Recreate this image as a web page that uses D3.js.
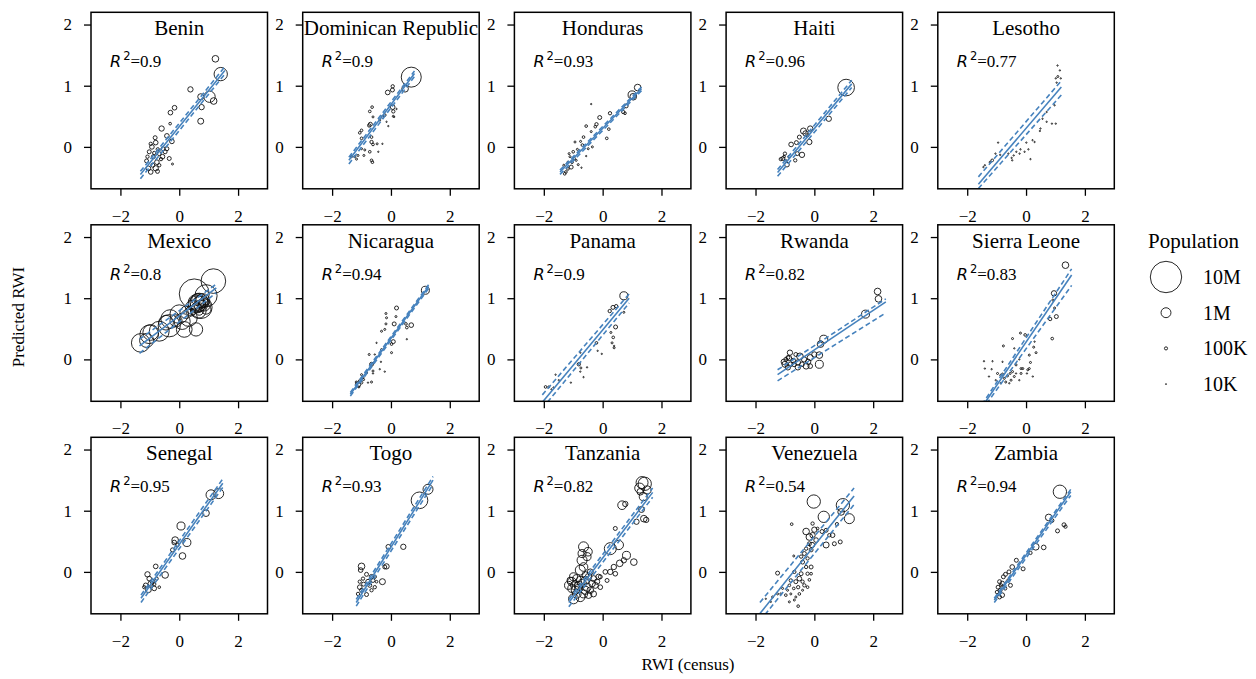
<!DOCTYPE html>
<html>
<head>
<meta charset="utf-8">
<script src="https://cdn.jsdelivr.net/npm/d3@7"></script>
<style>
body { margin: 0; background: #fff; }
text { font-family: "Liberation Serif", "Times New Roman", serif; fill: #000; }
</style>
</head>
<body>
<div class="chart"></div>
<script>
//Countries, R2 and regression lines (x range, y at both ends)
const countries = ['Benin','Dominican Republic','Honduras','Haiti','Lesotho',
	'Mexico','Nicaragua','Panama','Rwanda','Sierra Leone',
	'Senegal','Togo','Tanzania','Venezuela','Zambia'];
const r2 = [0.9, 0.9, 0.93, 0.96, 0.77, 0.8, 0.94, 0.9, 0.82, 0.83, 0.95, 0.93, 0.82, 0.54, 0.94];
const fitX   = [[-1.32,1.55],[-1.43,0.8],[-1.45,1.32],[-1.25,1.27],[-1.62,1.2],[-1.35,1.26],[-1.38,1.28],[-2.05,0.9],[-1.25,2.43],[-1.5,1.55],[-1.3,1.48],[-1.18,1.43],[-1.15,1.7],[-1.85,1.35],[-1.08,1.52]];
const fitMid = [[-0.45,1.25],[-0.22,1.2],[-0.41,0.95],[-0.42,1.03],[-0.61,0.98],[0.22,1.17],[-0.57,1.19],[-0.7,1.0],[-0.25,0.94],[-0.78,1.38],[-0.43,1.45],[-0.5,1.5],[-0.5,1.3],[-0.68,1.24],[-0.46,1.31]];
const fitUp  = [[-0.4,1.31],[-0.17,1.24],[-0.38,0.98],[-0.37,1.09],[-0.49,1.08],[0.33,1.23],[-0.54,1.22],[-0.58,1.07],[-0.17,0.99],[-0.74,1.48],[-0.38,1.52],[-0.45,1.56],[-0.45,1.37],[-0.5,1.37],[-0.43,1.35]];
const fitLo  = [[-0.52,1.19],[-0.28,1.15],[-0.45,0.92],[-0.48,0.97],[-0.68,0.85],[0.1,1.09],[-0.6,1.16],[-0.8,0.92],[-0.35,0.76],[-0.83,1.21],[-0.5,1.38],[-0.56,1.43],[-0.57,1.22],[-0.8,1.1],[-0.5,1.25]];

//Points: [RWI census, predicted RWI, population in thousands]
const benin = [[1.41,1.19,1800],[1.23,1.44,450],[1.17,0.75,450],[1.03,0.82,1300],[0.73,0.82,365],[0.76,0.65,290],[0.73,0.42,365],[0.38,0.94,290],[-0.16,0.64,220],[-0.3,0.56,220],[-0.31,0.38,72],[-0.6,0.3,290],[-0.42,0.18,220],[-0.25,0.09,220],[-0.42,-0.03,160],[-0.34,-0.19,160],[-0.23,-0.28,41],
	[-0.93,0,220],[-0.8,0.07,220],[-1.02,-0.08,160],[-1.11,-0.23,160],[-1.05,-0.35,220],[-0.8,-0.35,290],[-0.76,-0.25,220],[-0.68,-0.11,160],[-0.57,-0.16,220],[-0.88,-0.16,160],[-0.97,-0.41,220],[-0.74,-0.4,160],[-0.55,-0.03,160],[-0.62,-0.2,113],[-0.85,-0.1,113],[-1.08,-0.16,113],[-0.9,-0.3,160],[-0.68,-0.3,113],[-0.48,-0.08,160],[-0.73,-0.04,113],[-0.82,0.15,160],[-0.97,0.05,113]];
const dominican = [[0.69,1.14,4060],[0.48,0.95,450],[0.06,0.99,113],[-0.11,0.89,220],[0.05,0.93,160],[0.06,0.65,220],[0.08,0.58,113],[0.19,0.62,18],[-0.09,0.34,18],[0.08,0.5,41],[-0.29,0.49,72],[-0.21,0.52,72],[-0.64,0.65,72],[-0.72,0.58,72],[-0.61,0.49,41],[-0.74,0.35,113],[-0.7,0.37,160],[-1.0,0.27,72],[-1.06,0.23,72],[-1.0,0.14,72],[-0.66,0.16,72],[-0.66,0.08,113],[-0.61,0.04,72],[-0.47,0.05,41],[-1.0,-0.03,41],[-0.89,-0.05,41],[-0.72,-0.08,72],[-0.66,-0.22,72],[-0.63,-0.25,72],[-0.92,-0.14,41],[-1.12,-0.14,41],[-1.23,-0.16,41],[-1.34,-0.16,41],[-1.17,-0.2,41],[-0.43,-0.08,18],[-0.29,0.05,18],[-0.38,0.44,41],[-0.15,0.41,18],[0.11,0.49,18]];
const honduras = [[1.19,0.97,450],[1.0,0.85,650],[1.04,0.82,450],[0.8,0.67,160],[0.7,0.57,113],[0.76,0.55,72],[0.25,0.55,113],[0.21,0.29,72],[0.14,0.14,72],[-0.1,0.48,160],[-0.21,0.37,113],[-0.25,0.33,72],[-0.39,0.7,18],[-0.56,0.34,72],[-0.65,0.16,72],[-0.39,0.25,41],[-0.75,0.09,41],[-0.69,0.03,72],[-0.86,-0.04,41],[-0.94,0.08,41],[-1.0,-0.08,72],[-1.11,-0.16,41],[-1.04,-0.25,72],[-1.07,-0.33,160],[-1.18,-0.36,72],[-1.25,-0.41,72],[-1.29,-0.44,72],[-0.9,-0.22,41],[-0.83,-0.29,41],[-0.72,-0.34,18],[-0.56,-0.15,18],[-0.49,-0.03,41],[-0.35,0.0,41],[-1.14,-0.11,41],[-0.97,-0.19,72],[-1.32,-0.3,41],[-1.18,-0.25,41]];
const haiti = [[1.08,0.97,2800],[0.49,0.46,290],[-0.14,0.3,290],[-0.37,0.26,365],[-0.3,0.22,290],[-0.51,0.16,160],[-0.17,0.08,290],[-0.79,0.04,220],[-0.61,0.07,160],[-0.42,-0.13,290],[-0.58,-0.11,160],[-0.65,-0.22,113],[-1.0,-0.11,113],[-1.07,-0.19,160],[-1.14,-0.2,113],[-0.93,-0.29,220],[-0.97,-0.23,72],[-1.03,-0.16,72],[-0.86,-0.16,72],[-0.24,0.19,113]];
const lesotho = [[1.07,1.33,18],[1.15,1.25,18],[1.08,1.15,41],[1.01,1.12,18],[1.18,1.12,18],[1.04,1.05,18],[0.97,0.68,18],[1.01,0.38,18],[0.88,0.38,18],[0.7,0.41,18],[0.49,0.3,18],[0.47,0.26,18],[0.22,0.11,18],[0.29,0.08,18],[0.01,0.07,18],[0.08,-0.04,18],[-0.05,-0.08,18],[-0.19,-0.04,18],[-0.22,-0.11,18],[-0.42,-0.14,18],[-0.49,-0.18,18],[-0.47,-0.22,18],[-0.6,-0.11,18],[-0.88,-0.13,18],[-0.95,0.07,18],[-1.15,-0.22,72],[-1.22,-0.25,41],[-1.4,-0.3,18],[-1.45,-0.33,18],[-1.04,-0.11,18],[0.15,-0.2,18],[0.7,0.57,18],[0.56,0.46,18],[-0.33,-0.08,18]];
const mexico = [[1.16,1.28,6150],[0.51,1.07,9130],[0.91,1.04,5000],[0.74,0.85,5000],[0.68,0.93,3500],[0.57,0.93,2500],[0.8,0.96,2000],[0.63,0.98,1500],[0.45,0.85,2000],[0.85,0.89,1500],[0.57,0.49,1800],[0.17,0.49,2500],[0.32,0.68,3000],[0.0,0.74,3500],[-0.31,0.66,3500],[-0.34,0.55,5000],[-0.68,0.46,4000],[-0.97,0.44,2500],[-1.02,0.41,3500],[-1.31,0.27,3500],[-1.11,0.31,2000],[0.23,0.77,1500],[0.4,0.79,1000],[0.59,0.85,1000],[0.91,0.82,1000],[-0.11,0.63,1500],[0.68,0.79,700],[0.6,0.9,3000],[0.75,0.95,1800],[0.7,0.88,1200],[0.82,0.93,900],[0.65,0.8,2500],[-0.45,0.6,2200],[0.1,0.62,2600],[0.78,0.9,600]];
const nicaragua = [[1.17,1.13,650],[0.19,0.84,160],[-0.17,0.75,41],[-0.15,0.68,41],[0.17,0.7,41],[0.11,0.58,160],[0.69,0.56,220],[0.51,0.58,72],[0.54,0.52,72],[0.54,0.33,18],[-0.17,0.58,41],[-0.21,0.49,41],[-0.32,0.46,41],[-0.49,0.27,18],[0.08,0.29,160],[0.02,0.25,72],[0.02,0.11,41],[-0.32,0.16,41],[-0.34,-0.04,18],[-0.21,-0.2,18],[-0.38,-0.16,18],[-0.55,0.08,18],[-0.74,0.08,41],[-0.66,-0.08,160],[-0.61,-0.19,41],[-0.83,-0.22,41],[-0.61,-0.23,18],[-1.0,-0.25,41],[-1.06,-0.36,113],[-1.12,-0.41,290],[-1.0,-0.38,72],[-0.93,-0.33,41],[-1.18,-0.37,41],[-0.66,-0.37,41],[-0.78,-0.38,18],[-1.09,-0.45,41],[-0.95,-0.3,41]];
const panama = [[0.72,1.04,650],[0.46,0.87,113],[0.35,0.85,160],[0.24,0.79,113],[0.72,0.77,41],[0.44,0.53,160],[0.28,0.44,41],[0.36,0.36,72],[0.32,0.27,41],[0.39,0.19,41],[0.39,0.22,18],[-0.21,0.27,72],[-0.17,0.14,18],[-0.03,0.09,18],[-0.76,0.11,18],[-0.81,-0.08,113],[-0.74,-0.14,41],[-0.76,-0.2,18],[-0.53,-0.13,18],[-0.65,-0.29,18],[-1.08,-0.38,18],[-1.49,-0.34,18],[-1.6,-0.25,18],[-1.94,-0.45,72],[-1.83,-0.45,41],[-1.74,-0.49,18],[-1.67,-0.46,18]];
const rwanda = [[2.15,1.11,450],[2.18,0.99,450],[1.74,0.74,650],[0.32,0.33,650],[0.21,0.25,450],[0.17,0.07,450],[0.17,-0.08,650],[0.0,0.08,290],[-0.14,0.03,365],[-0.21,-0.04,290],[-0.28,-0.11,365],[-0.35,0.0,290],[-0.49,0.05,450],[-0.56,-0.05,290],[-0.56,-0.13,290],[-0.69,-0.08,220],[-0.83,0.11,290],[-0.86,0.02,290],[-0.81,-0.08,220],[-0.9,-0.13,290],[-1.04,-0.04,290],[-1.0,-0.08,365],[-0.9,0.03,160],[-0.14,-0.11,220],[-0.42,-0.08,220],[-0.72,-0.02,220],[-0.63,0.08,160],[-0.97,0.0,160]];
const sierraLeone = [[1.34,1.54,450],[0.95,1.08,290],[1.03,0.7,160],[0.82,0.66,113],[0.89,0.34,72],[0.97,0.84,41],[0.91,0.97,41],[-0.03,0.4,72],[-0.19,0.43,41],[-0.46,0.34,41],[-0.77,0.22,41],[0.26,0.2,41],[0.34,0.11,41],[0.11,0.07,41],[0.15,-0.05,41],[0.11,-0.15,41],[0.06,-0.17,41],[-0.11,-0.15,41],[-0.17,-0.23,41],[-0.34,-0.09,41],[-1.43,-0.03,18],[-1.14,-0.03,18],[-1.4,-0.15,18],[-1.17,-0.16,18],[-1.26,-0.28,18],[-0.97,-0.23,41],[-0.86,-0.26,41],[-0.74,-0.31,41],[-0.63,-0.27,41],[-0.51,-0.34,41],[-0.69,-0.37,41],[-0.46,-0.2,41],[-0.4,-0.28,41],[-0.17,-0.15,41],[-0.23,-0.34,18],[-0.57,-0.39,18],[-0.8,-0.24,41],[-1.03,-0.34,18],[-0.86,-0.39,18],[-0.34,-0.23,18],[-0.23,0.0,18],[0.03,-0.23,18],[0.23,-0.28,18],[-0.54,-0.23,41],[-0.8,-0.04,18],[-0.4,0.18,18],[0.29,0.29,18]];
const senegal = [[1.34,1.28,1015],[1.08,1.26,1015],[0.91,0.96,450],[0.06,0.75,650],[-0.14,0.52,450],[0.26,0.48,650],[-0.17,0.48,220],[-0.06,0.44,113],[-0.23,0.36,160],[0.11,0.26,450],[-0.8,0.09,220],[-0.48,-0.05,450],[-1.08,-0.04,290],[-1.02,-0.11,220],[-0.97,-0.19,290],[-1.14,-0.22,220],[-1.05,-0.29,365],[-0.85,-0.27,220],[-0.91,-0.16,220],[-0.77,-0.11,113],[-1.19,-0.25,113],[-0.85,-0.2,113],[-0.68,-0.25,72]];
const togo = [[0.97,1.17,2820],[1.26,1.35,1015],[0.42,0.41,290],[-0.09,0.41,220],[-0.15,0.09,290],[-0.21,0.08,160],[-0.29,-0.16,365],[-1.0,0.09,450],[-1.03,0.03,220],[-0.83,-0.04,160],[-0.66,-0.08,220],[-0.61,-0.14,160],[-0.78,-0.16,220],[-0.95,-0.11,113],[-1.06,-0.25,220],[-1.0,-0.3,160],[-0.93,-0.2,160],[-0.72,-0.22,160],[-0.55,-0.25,113],[-0.83,-0.37,160],[-0.66,-0.3,113],[-1.12,-0.36,113],[-0.55,-0.08,113],[-0.49,-0.16,72],[-1.06,-0.16,113]];
const tanzania = [[1.34,1.46,1460],[1.43,1.44,1800],[1.26,1.37,1015],[1.51,1.34,650],[1.38,1.23,650],[1.28,1.31,450],[0.66,1.09,760],[0.77,1.11,290],[1.32,1.02,365],[1.4,0.87,450],[1.48,0.85,290],[1.15,0.82,290],[0.43,0.71,160],[-0.65,0.41,1015],[-0.5,0.33,760],[-0.7,0.3,650],[-0.53,0.25,650],[-0.7,0.19,1015],[-0.65,0.08,760],[-0.76,0.03,1015],[0.26,0.38,1460],[0.55,0.44,880],[0.81,0.27,650],[1.06,0.16,450],[0.58,0.14,450],[0.38,0.08,290],[0.26,0.0,290],[0.43,-0.03,220],[0.09,0.0,220],[-0.08,-0.08,160],[0.15,-0.14,160],[0.72,0.19,290],
	[-0.99,-0.08,650],[-1.05,-0.16,760],[-0.93,-0.22,880],[-0.82,-0.27,650],[-0.7,-0.19,760],[-0.59,-0.14,650],[-0.48,-0.08,450],[-0.36,-0.19,450],[-0.53,-0.25,650],[-0.42,-0.3,450],[-0.31,-0.11,365],[-0.25,-0.22,365],[-0.65,-0.36,650],[-0.88,-0.36,760],[-1.05,-0.27,650],[-1.16,-0.22,650],[-0.76,-0.41,880],[-0.93,-0.3,650],[-0.48,-0.38,450],[-0.14,-0.08,290],[-0.19,-0.16,290],[-0.76,-0.14,650],[-0.59,-0.05,450],[-0.42,0.0,365],[-1.1,-0.14,450],[-0.88,-0.11,650],[-0.31,-0.36,365],[-0.08,-0.25,220],[-0.59,-0.3,650],[-0.82,-0.22,650],[-0.99,-0.44,1015]];
const venezuela = [[-0.02,1.15,1800],[0.32,0.9,1300],[0.97,1.09,1800],[1.19,0.87,1015],[0.91,0.98,450],[0.77,0.78,113],[-0.77,0.78,72],[-0.28,0.66,450],[0.0,0.69,290],[-0.06,0.6,290],[-0.17,0.57,450],[0.26,0.66,160],[0.4,0.68,160],[0.51,0.6,113],[0.62,0.6,220],[0.88,0.49,160],[0.68,0.46,160],[0.4,0.44,365],[0.06,0.52,220],[-0.08,0.44,290],[-0.17,0.46,160],[-0.28,0.38,113],[-0.34,0.3,160],[-0.45,0.25,113],[-0.7,0.26,41],[-0.11,0.36,160],[-0.23,0.22,113],[-0.4,0.16,160],[-0.28,0.08,113],[-0.11,0.08,160],[-0.23,-0.03,113],[-0.45,-0.03,160],[-0.68,0.0,113],[-0.51,-0.11,220],[-0.63,-0.16,160],[-0.8,-0.14,113],[-0.4,-0.16,113],[-0.11,-0.03,72],[-0.17,-0.13,72],[-0.34,-0.22,113],[-0.55,-0.25,113],[-0.7,-0.27,72],[-0.85,-0.22,72],[-0.91,-0.3,41],[-1.08,-0.27,41],[-1.25,-0.02,160],[-1.14,-0.36,41],[-1.25,-0.36,41],[-0.97,-0.38,72],[-0.8,-0.36,41],[-0.63,-0.41,41],[-0.51,-0.36,72],[-0.68,-0.46,41],[-0.85,-0.49,41],[-0.55,-0.56,72],[-1.42,-0.41,41],[-1.48,-0.49,18],[-1.65,-0.44,18],[-0.23,-0.25,72],[-0.4,-0.3,41],[-0.06,0.79,113],[0.11,0.71,72]];
const zambia = [[1.15,1.31,1800],[0.77,0.89,450],[0.88,0.84,160],[1.29,0.77,160],[1.34,0.74,113],[1.07,0.67,160],[0.6,0.4,220],[0.33,0.41,450],[0.15,0.31,113],[-0.33,0.19,160],[-0.1,0.05,160],[-0.47,0.08,220],[-0.58,0.0,160],[-0.7,-0.04,160],[-0.77,-0.08,160],[-0.81,-0.19,220],[-0.9,-0.16,160],[-0.95,-0.25,160],[-0.88,-0.3,160],[-0.81,-0.38,220],[-0.9,-0.41,160],[-0.71,-0.27,113],[-0.53,-0.22,160],[-0.6,-0.14,113],[-0.99,-0.33,113],[-0.85,-0.22,113]];

const pointSets = [benin, dominican, honduras, haiti, lesotho, mexico, nicaragua, panama, rwanda, sierraLeone, senegal, togo, tanzania, venezuela, zambia];

//Legend
const legendValues = [10000, 1000, 100, 10];
const legendLabels = ['10M', '1M', '100K', '10K'];

//Set SVG
const width = 1256;
const height = 679;
const svg = d3.select('.chart')
	.append('svg')
	.attr('width', width)
	.attr('height', height);

const size = 176.5;
const colStep = 211.7;
const rowStep = 212.5;
const left0 = 91;
const top0 = 12.3;
const blue = '#4682bd';
const serif = '"Liberation Serif", "Times New Roman", serif';

const x = d3.scaleLinear().domain([-3, 3]).range([0, size]);
const y = d3.scaleLinear().domain([-0.685, 2.2]).range([size, 0]);
const r = d3.scaleSqrt().domain([0, 10000]).range([0, 15.7]);

const panels = countries.map((c, i) => ({
	name: c, r2: r2[i], pts: pointSets[i],
	lines: [
		{y: fitMid[i], dash: null},
		{y: fitUp[i], dash: '5,3'},
		{y: fitLo[i], dash: '5,3'}
	],
	fx: fitX[i]
}));

const g = svg.selectAll('g.panel')
	.data(panels)
	.enter()
	.append('g')
	.attr('class', 'panel')
	.attr('transform', (d, i) => `translate(${left0 + (i % 5) * colStep},${top0 + Math.floor(i / 5) * rowStep})`);

g.append('clipPath')
	.attr('id', (d, i) => 'clip' + i)
	.append('rect')
	.attr('width', size)
	.attr('height', size);

const plot = g.append('g').attr('clip-path', (d, i) => `url(#clip${i})`);

//Scatter points
plot.selectAll('circle')
	.data(d => d.pts)
	.enter()
	.append('circle')
	.attr('cx', d => x(d[0]))
	.attr('cy', d => y(d[1]))
	.attr('r', d => r(d[2]))
	.attr('fill', 'none')
	.attr('stroke', '#111')
	.attr('stroke-width', 0.9);

//Regression line and bounds
plot.selectAll('line')
	.data(d => d.lines.map(l => ({x: d.fx, y: l.y, dash: l.dash})))
	.enter()
	.append('line')
	.attr('x1', d => x(d.x[0]))
	.attr('x2', d => x(d.x[1]))
	.attr('y1', d => y(d.y[0]))
	.attr('y2', d => y(d.y[1]))
	.attr('stroke', blue)
	.attr('stroke-width', 1.6)
	.attr('stroke-dasharray', d => d.dash);

//Axes
g.append('g')
	.attr('transform', `translate(0,${size})`)
	.each(function() {
		d3.select(this).call(d3.axisBottom(x).tickValues([-2, 0, 2]).tickSize(7).tickPadding(14).tickFormat(d3.format('d')));
	});
g.append('g')
	.each(function() {
		d3.select(this).call(d3.axisLeft(y).tickValues([0, 1, 2]).tickSize(7).tickPadding(12).tickFormat(d3.format('d')));
	});
svg.selectAll('.domain').remove();
svg.selectAll('.tick line').attr('stroke', '#000').attr('stroke-width', 1.3);
svg.selectAll('.tick text')
	.style('font-family', serif)
	.style('font-size', '17px')
	.attr('fill', '#000');

//Frame
g.append('rect')
	.attr('width', size)
	.attr('height', size)
	.attr('fill', 'none')
	.attr('stroke', '#000')
	.attr('stroke-width', 1.5);

//Titles
g.append('text')
	.attr('x', size / 2)
	.attr('y', 23)
	.attr('text-anchor', 'middle')
	.style('font-size', '21px')
	.text(d => d.name);

//R2 labels
const rt = g.append('text')
	.attr('x', 19)
	.attr('y', 55)
	.style('font-size', '17px');
rt.append('tspan')
	.style('font-family', '"DejaVu Sans", sans-serif')
	.style('font-style', 'italic')
	.style('font-size', '16px')
	.text('R');
rt.append('tspan')
	.style('font-family', '"DejaVu Sans", sans-serif')
	.style('font-size', '11.5px')
	.attr('dx', 2)
	.attr('dy', -7)
	.text('2');
rt.append('tspan')
	.attr('dy', 7)
	.text(d => '=' + d.r2);

//Axis labels
svg.append('text')
	.attr('transform', 'translate(24,317) rotate(-90)')
	.attr('text-anchor', 'middle')
	.style('font-size', '17px')
	.text('Predicted RWI');
svg.append('text')
	.attr('x', 688)
	.attr('y', 670)
	.attr('text-anchor', 'middle')
	.style('font-size', '17px')
	.text('RWI (census)');

//Population legend
const legend = svg.append('g').attr('transform', 'translate(1148,0)');
legend.append('text')
	.attr('x', 0)
	.attr('y', 248)
	.style('font-size', '21px')
	.text('Population');
legend.selectAll('circle')
	.data(legendValues)
	.enter()
	.append('circle')
	.attr('cx', 18)
	.attr('cy', (d, i) => 277 + i * 35.7)
	.attr('r', d => r(d))
	.attr('fill', 'none')
	.attr('stroke', '#111')
	.attr('stroke-width', 0.9);
legend.selectAll('text.lab')
	.data(legendLabels)
	.enter()
	.append('text')
	.attr('class', 'lab')
	.attr('x', 55)
	.attr('y', (d, i) => 277 + i * 35.7 + 7)
	.style('font-size', '20px')
	.text(d => d);
</script>
</body>
</html>
